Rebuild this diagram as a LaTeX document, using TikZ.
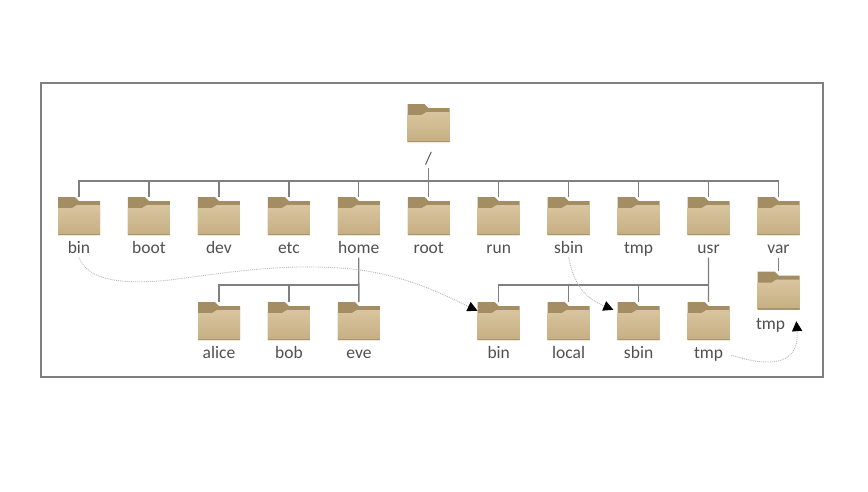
\documentclass[tikz,border=0pt]{standalone}
\usepackage{fontspec}
\setmainfont{Carlito}
\usetikzlibrary{arrows.meta}
\definecolor{folderback}{HTML}{A48D63}
\definecolor{foldertop}{HTML}{D8C59F}
\definecolor{folderbottom}{HTML}{C6AE82}
\definecolor{folderedge}{HTML}{A8966F}
\definecolor{treegray}{HTML}{7F7F7F}
\definecolor{textgray}{HTML}{505050}
\begin{document}
\begin{tikzpicture}
[x=1pt, y=-1pt, node distance=69.95pt,
folder node/.style={rectangle, inner sep=0pt, minimum width=42pt, minimum height=38pt,
  path picture={
    \fill[folderback] (path picture bounding box.north west) -- ++(17pt,0pt) -- ++(4pt,-4pt)
      -- ++(21pt,0pt) -- ++(0pt,-34pt) -- ++(-42pt,0pt) -- cycle;
    \shade[top color=foldertop, bottom color=folderbottom]
      ([yshift=-11pt]path picture bounding box.north west) -- ++(14pt,0pt) -- ++(5pt,3pt)
      -- ++(23pt,0pt) -- (path picture bounding box.south east)
      -- (path picture bounding box.south west) -- cycle;
    \fill[folderedge] (path picture bounding box.south west) rectangle
      ([yshift=1.5pt]path picture bounding box.south east);
  }},
every label/.style={text=textgray, inner sep=0pt, text height=11pt, text depth=3.5pt,
  font=\fontsize{17.5}{20}\selectfont, label distance=7.5pt},
tree line/.style={draw=treegray, line width=1.3pt},
link line/.style={draw=black!28, densely dotted, line width=0.9pt, -{Triangle[black, length=10pt, width=10pt]}}]

\fill[white] (0,0) rectangle (868,491);
\useasboundingbox (0,0) rectangle (868,491);
\draw[treegray, line width=1.2pt] (41,83) rectangle (823,377);

\node[folder node, label={[name=lslash, label distance=11pt]below:/}] (slash) at (428.5,123) {};

\node[folder node, label={[name=lbin]below:bin}] (bin) at (79,216) {};
\node[folder node, right of=bin, label={[name=lboot]below:boot}] (boot) {};
\node[folder node, right of=boot, label={[name=ldev]below:dev}] (dev) {};
\node[folder node, right of=dev, label={[name=letc]below:etc}] (etc) {};
\node[folder node, right of=etc, label={[name=lhome]below:home}] (home) {};
\node[folder node, right of=home, label={[name=lroot]below:root}] (root) {};
\node[folder node, right of=root, label={[name=lrun]below:run}] (run) {};
\node[folder node, right of=run, label={[name=lsbin]below:sbin}] (sbin) {};
\node[folder node, right of=sbin, label={[name=ltmp]below:tmp}] (tmp) {};
\node[folder node, right of=tmp, label={[name=lusr]below:usr}] (usr) {};
\node[folder node, right of=usr, label={[name=lvar]below:var}] (var) {};

\node[folder node, label={[name=lalice]below:alice}] (alice) at (219,321) {};
\node[folder node, right of=alice, label={[name=lbob]below:bob}] (bob) {};
\node[folder node, right of=bob, label={[name=leve]below:eve}] (eve) {};

\node[folder node, label={[name=lubin]below:bin}] (ubin) at (498.7,321) {};
\node[folder node, right of=ubin, label={[name=llocal]below:local}] (local) {};
\node[folder node, right of=local, label={[name=lusbin]below:sbin}] (usbin) {};
\node[folder node, right of=usbin, label={[name=lutmp]below:tmp}] (utmp) {};

\node[folder node, label={[name=lvtmp, label distance=9pt, xshift=-8pt]below:tmp}] (vtmp) at (778.6,290.5) {};

\coordinate (topbus) at (428.5,181);
\coordinate (homebus) at (358.8,285);
\coordinate (usrbus) at (708.5,285);

\draw[tree line] (lslash) -- (topbus);
\draw[tree line] (bin) |- (topbus);
\draw[tree line] (var) |- (topbus);
\draw[tree line] (boot) -- (boot |- topbus);
\draw[tree line] (dev) -- (dev |- topbus);
\draw[tree line] (etc) -- (etc |- topbus);
\draw[tree line] (home) -- (home |- topbus);
\draw[tree line] (root) -- (root |- topbus);
\draw[tree line] (run) -- (run |- topbus);
\draw[tree line] (sbin) -- (sbin |- topbus);
\draw[tree line] (tmp) -- (tmp |- topbus);
\draw[tree line] (usr) -- (usr |- topbus);

\draw[tree line] (lhome) -- (eve);
\draw[tree line] (alice) |- (homebus);
\draw[tree line] (bob) -- (bob |- homebus);

\draw[tree line] (lusr) -- (utmp);
\draw[tree line] (ubin) |- (usrbus);
\draw[tree line] (local) -- (local |- usrbus);
\draw[tree line] (usbin) -- (usbin |- usrbus);

\draw[tree line] (lvar) -- (var |- vtmp.north);

\draw[link line] (lbin.south) .. controls (88,280) and (120,285) .. (170,280)
  .. controls (230,272) and (280,264) .. (340,268)
  .. controls (400,272) and (440,293) .. ([yshift=-9pt]ubin.north west);
\draw[link line] (lsbin.south) .. controls (575,290) and (590,300) .. ([shift={(-4pt,-8pt)}]usbin.north west);
\draw[link line] ([xshift=8pt]lutmp.east) .. controls (765,366) and (800,368) .. ([shift={(11pt,5pt)}]lvtmp.east);
\end{tikzpicture}
\end{document}
